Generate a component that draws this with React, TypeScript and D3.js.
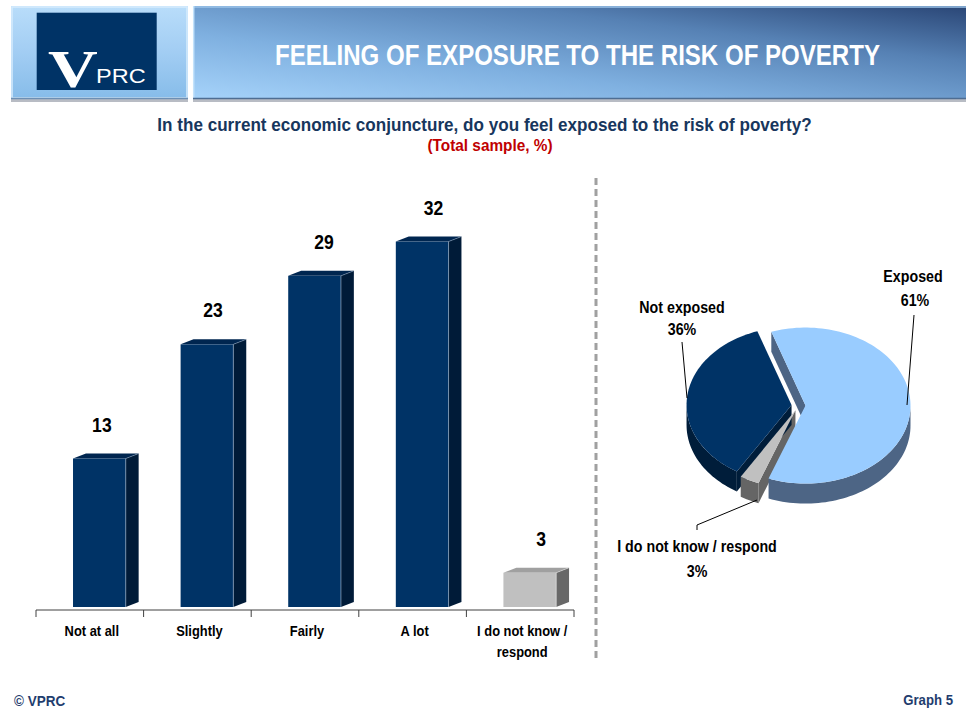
import React from "react";
import * as d3 from "d3";

const categories = ["Not at all", "Slightly", "Fairly", "A lot", "I do not know / respond"];
const categoryLines = [["Not at all"], ["Slightly"], ["Fairly"], ["A lot"], ["I do not know /", "respond"]];
const barValues = [13, 23, 29, 32, 3];
const barKinds = ["main", "main", "main", "main", "dk"];

const pieNames = ["Exposed", "I do not know / respond", "Not exposed"];
const pieValues = [61, 3, 36];

const TITLE = "FEELING OF EXPOSURE TO THE RISK OF POVERTY";
const QUESTION = "In the current economic conjuncture, do you feel exposed to the risk of poverty?";
const SAMPLE = "(Total sample, %)";

const SANS = "'Liberation Sans', Arial, sans-serif";
const NARROW_SCALE = 0.82;

const barColors: Record<string, { front: string; side: string; top: string; edge: string }> = {
  main: { front: "#003366", side: "#001b38", top: "#002650", edge: "#8fa6c0" },
  dk: { front: "#c0c0c0", side: "#686868", top: "#a0a0a0", edge: "#e0e0e0" },
};

const pieColors: Record<string, { top: string; side: string }> = {
  "Exposed": { top: "#99ccff", side: "#4d6585" },
  "I do not know / respond": { top: "#c0c0c0", side: "#656565" },
  "Not exposed": { top: "#003366", side: "#001d3a" },
};

type NTProps = {
  x: number;
  y: number;
  size: number;
  fill?: string;
  anchor?: "start" | "middle" | "end";
  sx?: number;
  children: React.ReactNode;
};

function NText({ x, y, size, fill = "#000", anchor = "middle", sx = NARROW_SCALE, children }: NTProps) {
  return (
    <g transform={`translate(${x},${y}) scale(${sx},1)`}>
      <text x={0} y={0} textAnchor={anchor} fontFamily={SANS} fontWeight="bold" fontSize={size} fill={fill}>
        {children}
      </text>
    </g>
  );
}

function BarChart() {
  const x = d3.scaleBand<string>().domain(categories).range([36, 574]).padding(0);
  const y = d3.scaleLinear().domain([0, 35]).range([607, 207.3]);
  const bw = x.bandwidth();
  const fOff = bw * 0.344;
  const fW = bw * 0.49;
  const dx = bw * 0.12;
  const dy = 5;
  const base = y(0);
  const axisY = 610;
  const ticks = categories.map((c) => x(c) as number).concat([x.range()[1]]);
  return (
    <g>
      {categories.map((c, i) => {
        const v = barValues[i];
        const col = barColors[barKinds[i]];
        const x0 = (x(c) as number) + fOff;
        const x1 = x0 + fW;
        const yt = y(v);
        const top = `M${x0},${yt} L${x0 + dx},${yt - dy} L${x1 + dx},${yt - dy} L${x1},${yt} Z`;
        const side = `M${x1},${yt} L${x1 + dx},${yt - dy} L${x1 + dx},${base - dy} L${x1},${base} Z`;
        // slight perspective drift of the labels toward the right
        const persp = 2.5 + 3.5 * Math.min(i, 2.5);
        return (
          <g key={c}>
            <path d={side} fill={col.side} />
            <path d={top} fill={col.top} />
            <rect x={x0} y={yt} width={fW} height={base - yt} fill={col.front} />
            <line x1={x1} y1={yt} x2={x1} y2={base} stroke={col.edge} strokeWidth={0.7} />
            <line x1={x1} y1={yt} x2={x1 + dx} y2={yt - dy} stroke={col.edge} strokeWidth={0.5} />
            <NText x={x0 + fW / 2 + persp} y={yt - 27} size={19.5} sx={0.9}>
              {v}
            </NText>
          </g>
        );
      })}
      <line x1={x.range()[0]} y1={axisY} x2={x.range()[1]} y2={axisY} stroke="#404040" strokeWidth={1} />
      {ticks.map((t, i) => (
        <line key={i} x1={t} y1={axisY} x2={t} y2={axisY + 7} stroke="#404040" strokeWidth={1} />
      ))}
      {categories.map((c, i) =>
        categoryLines[i].map((ln, j) => (
          <NText key={c + j} x={(x(c) as number) + bw / 2 + 2} y={636 + j * 21} size={15} sx={0.86}>
            {ln}
          </NText>
        ))
      )}
    </g>
  );
}

function PieChart() {
  const cx = 798.5;
  const cy = 405.5;
  const rx = 105;
  const ry = 78;
  const depth = 20;
  const explode = 7;
  const start = (-19 * Math.PI) / 180;
  const arcs = d3
    .pie<number>()
    .sort(null)
    .startAngle(start)
    .endAngle(start + 2 * Math.PI)(pieValues);

  const pt = (a: number, ox: number, oy: number, dz = 0): [number, number] => [
    ox + rx * Math.sin(a),
    oy - ry * Math.cos(a) + dz,
  ];
  const arcPts = (a0: number, a1: number, ox: number, oy: number, dz = 0) => {
    const n = Math.max(2, Math.ceil(((a1 - a0) * 180) / Math.PI / 2));
    const out: [number, number][] = [];
    for (let k = 0; k <= n; k++) out.push(pt(a0 + ((a1 - a0) * k) / n, ox, oy, dz));
    return out;
  };
  const line = d3.line();

  const slices = arcs.map((a, i) => {
    const mid = (a.startAngle + a.endAngle) / 2;
    const ox = cx + explode * Math.sin(mid);
    const oy = cy - explode * Math.cos(mid) * (ry / rx);
    return { a, i, name: pieNames[i], ox, oy };
  });

  const radialWalls: React.ReactElement[] = [];
  const outerWalls: React.ReactElement[] = [];
  const tops: React.ReactElement[] = [];

  slices.forEach(({ a, name, ox, oy }) => {
    const col = pieColors[name];
    const a0 = a.startAngle;
    const a1 = a.endAngle;
    const wall = (ang: number, key: string) => {
      const e = pt(ang, ox, oy);
      const pts: [number, number][] = [[ox, oy], e, [e[0], e[1] + depth], [ox, oy + depth]];
      radialWalls.push(<path key={key} d={(line(pts) as string) + "Z"} fill={col.side} />);
    };
    if (Math.sin(a0) < 0) wall(a0, name + "-s");
    if (Math.sin(a1) > 0) wall(a1, name + "-e");
    const lo = Math.max(a0, Math.PI / 2);
    const hi = Math.min(a1, (3 * Math.PI) / 2);
    if (hi > lo) {
      const topPts = arcPts(lo, hi, ox, oy);
      const botPts = arcPts(lo, hi, ox, oy, depth).reverse();
      outerWalls.push(
        <path key={name + "-o"} d={(line(topPts.concat(botPts)) as string) + "Z"} fill={col.side} />
      );
    }
    const facePts: [number, number][] = [[ox, oy] as [number, number]].concat(arcPts(a0, a1, ox, oy));
    tops.push(<path key={name + "-t"} d={(line(facePts) as string) + "Z"} fill={col.top} />);
  });

  const byName = (n: string) => pieValues[pieNames.indexOf(n)];
  const ps = 16;
  const psx = 0.89;

  return (
    <g>
      {radialWalls}
      {outerWalls}
      {tops}
      <NText x={913} y={282} size={ps} sx={psx}>Exposed</NText>
      <NText x={915} y={306} size={ps} sx={psx}>{byName("Exposed")}%</NText>
      <line x1={914} y1={315} x2={907} y2={405} stroke="#000" strokeWidth={1} />
      <NText x={682} y={313} size={ps} sx={psx}>Not exposed</NText>
      <NText x={682} y={335} size={ps} sx={psx}>{byName("Not exposed")}%</NText>
      <line x1={682} y1={342} x2={687} y2={398} stroke="#000" strokeWidth={1} />
      <polyline points="697,530 697,525 757,500" fill="none" stroke="#000" strokeWidth={1} />
      <NText x={697} y={552} size={ps} sx={psx}>I do not know / respond</NText>
      <NText x={697} y={577} size={ps} sx={psx}>{byName("I do not know / respond")}%</NText>
    </g>
  );
}

function Header() {
  return (
    <g>
      <defs>
        <linearGradient id="lbox" x1="0" y1="0" x2="0" y2="1">
          <stop offset="0" stopColor="#b9ddfa" />
          <stop offset="0.5" stopColor="#a2cdf3" />
          <stop offset="1" stopColor="#86bce9" />
        </linearGradient>
        <linearGradient id="rbox" x1="0" y1="1" x2="1" y2="0">
          <stop offset="0" stopColor="#a6d3fa" />
          <stop offset="0.35" stopColor="#7fb0e0" />
          <stop offset="0.7" stopColor="#5681b4" />
          <stop offset="1" stopColor="#2a4676" />
        </linearGradient>
      </defs>
      <rect x={11} y={98} width={177} height={4} fill="#b8bcc4" />
      <rect x={193} y={98} width={773} height={4} fill="#b8bcc4" />
      <rect x={11} y={6} width={177} height={93} fill="url(#lbox)" />
      <rect x={12} y={7} width={175} height={91} fill="none" stroke="#d6ecfd" strokeWidth={1.5} />
      <line x1={11} y1={98.5} x2={188} y2={98.5} stroke="#6d8fb3" strokeWidth={1.5} />
      <rect x={36.7} y={12.7} width={120} height={77.3} fill="#003366" />
      <g transform="translate(48,87) scale(1.3,1)">
        <text x={0} y={0} fontFamily="'Liberation Serif', 'Times New Roman', serif" fontWeight="bold" fontSize={53} fill="#fff">
          V
        </text>
      </g>
      <g transform="translate(96,83) scale(1.12,1)">
        <text x={0} y={0} fontFamily={SANS} fontSize={21} fill="#fff">
          PRC
        </text>
      </g>
      <rect x={193} y={6} width={773} height={93} fill="url(#rbox)" />
      <line x1={193} y1={7} x2={966} y2={7} stroke="#9cc4ea" strokeWidth={1.5} />
      <line x1={193.7} y1={6} x2={193.7} y2={99} stroke="#c3e2fb" strokeWidth={1.5} />
      <line x1={193} y1={98.5} x2={966} y2={98.5} stroke="#4e6d92" strokeWidth={1.5} />
      <NText x={577.5} y={65} size={29} fill="#fff" sx={0.83}>
        {TITLE}
      </NText>
      <NText x={484.5} y={131} size={18} fill="#17365d" sx={0.95}>
        {QUESTION}
      </NText>
      <NText x={490} y={151} size={16} fill="#c00000" sx={0.96}>
        {SAMPLE}
      </NText>
    </g>
  );
}

export default function App() {
  return (
    <svg
      width={966}
      height={708}
      viewBox="0 0 966 708"
      style={{ position: "absolute", left: 0, top: 0, display: "block", background: "#fff" }}
    >
      <rect x={0} y={0} width={966} height={708} fill="#fff" />
      <Header />
      <line x1={596} y1={178} x2={596} y2={662} stroke="#a0a0a0" strokeWidth={3} strokeDasharray="7,4" />
      <BarChart />
      <PieChart />
      <NText x={14} y={706} size={15} fill="#1f3d6e" anchor="start" sx={0.9}>
        © VPRC
      </NText>
      <NText x={953} y={705} size={15} fill="#1f3d6e" anchor="end" sx={0.88}>
        Graph 5
      </NText>
    </svg>
  );
}
